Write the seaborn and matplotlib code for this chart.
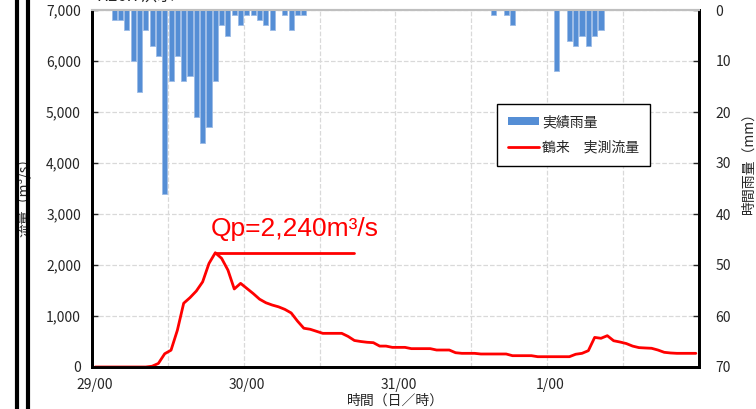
import numpy as np
import pandas as pd
import matplotlib
matplotlib.use("Agg")
import matplotlib.pyplot as plt
import seaborn as sns
from matplotlib.lines import Line2D
from matplotlib.patches import Patch
from matplotlib.ticker import FixedLocator, FuncFormatter

# hourly data, 29/00 .. 1/23 (96 hours)
hours = np.arange(96)

rain_mm = [0, 0, 0, 2, 2, 4, 10, 16, 4, 7,
           9, 36, 14, 9, 14, 13, 21, 26, 23, 14,
           3, 5, 1, 3, 1, 1, 2, 3, 4, 0,
           1, 4, 1, 1, 0, 0, 0, 0, 0, 0,
           0, 0, 0, 0, 0, 0, 0, 0, 0, 0,
           0, 0, 0, 0, 0, 0, 0, 0, 0, 0,
           0, 0, 0, 1, 0, 1, 3, 0, 0, 0,
           0, 0, 0, 12, 0, 6, 7, 5, 7, 5,
           4, 0, 0, 0, 0, 0, 0, 0, 0, 0,
           0, 0, 0, 0, 0, 0]

flow_cms = [0, 0, 0, 0, 0, 0, 0, 0, 0, 15,
            70, 260, 330, 720, 1250, 1360, 1490, 1670, 2030, 2240,
            2130, 1900, 1530, 1640, 1540, 1440, 1330, 1260, 1215, 1180,
            1130, 1060, 900, 760, 740, 700, 660, 660, 660, 660,
            600, 520, 500, 485, 477, 410, 410, 385, 385, 385,
            360, 360, 360, 360, 333, 333, 333, 280, 268, 268,
            268, 255, 255, 255, 255, 255, 222, 222, 222, 222,
            202, 202, 202, 202, 202, 202, 250, 268, 320, 580,
            563, 614, 515, 490, 460, 410, 380, 373, 367, 333,
            288, 275, 268, 268, 268, 268]

tick_pos = [0, 24, 48, 72]
tick_labels = ["29/00", "30/00", "31/00", "1/00"]
peak_flow = 2240

df = pd.DataFrame({"hour": hours, "rain": rain_mm, "flow": flow_cms})

sns.set_style("white")
jp = ["Noto Sans CJK JP", "DejaVu Sans"]
plt.rcParams["font.family"] = jp

bar_color = "#558ed5"
fig = plt.figure(figsize=(7.56, 4.09), dpi=100)
ax = fig.add_axes([92 / 756, 42 / 409, 607 / 756, 357 / 409])
ax2 = ax.twinx()

# flow (left axis)
sns.lineplot(data=df, x="hour", y="flow", ax=ax, color="red", lw=2, zorder=5)
ax.set_xlim(-0.5, 95.5)
ax.set_ylim(0, 7000)
ax.set_yticks(np.arange(0, 7001, 1000))
ax.yaxis.set_major_formatter(FuncFormatter(lambda v, p: f"{int(v):,}"))
ax.set_xticks(tick_pos)
ax.set_xticklabels(tick_labels)
ax.xaxis.set_minor_locator(FixedLocator(np.arange(-0.5, 96, 12)))
ax.grid(False)
ax.grid(axis="y", which="major", color="#d9d9d9", ls="--", lw=0.9)
ax.grid(axis="x", which="minor", color="#d9d9d9", ls="--", lw=0.9)
ax.tick_params(axis="x", which="major", length=0, labelsize=10, pad=8)
ax.tick_params(axis="x", which="minor", direction="in", length=4, width=1)
ax.tick_params(axis="y", direction="in", length=4, width=1, labelsize=10, pad=8)
ax.set_xlabel("時間（日／時）", fontsize=10)
ax.xaxis.set_label_coords(0.5, -0.076)
ax.set_ylabel("流量（m³/s）", fontsize=10)
ax.yaxis.set_label_coords(-0.099, 0.485)

# Qp annotation
ax.plot([19, 41], [peak_flow, peak_flow], color="red", lw=2)
ax.text(31.6, 2700, "Qp=2,240m³/s", color="red", fontsize=19,
        family=["Liberation Sans", "DejaVu Sans"], ha="center", va="center")

# rainfall (right axis, inverted)
sns.barplot(data=df, x="hour", y="rain", ax=ax2, native_scale=True,
            color=bar_color, saturation=1, width=0.8,
            edgecolor="#9bbbe6", linewidth=0.6)
ax2.set_xlim(-0.5, 95.5)
ax2.set_ylim(70, 0)
ax2.set_yticks(np.arange(0, 71, 10))
ax2.tick_params(axis="y", direction="in", length=4, width=1, labelsize=10, pad=12)
ax2.set_ylabel("時間雨量（mm）", fontsize=10)
ax2.yaxis.set_label_coords(1.071, 0.58)
ax2.set_xlabel("")

for a in (ax, ax2):
    for s in ("left", "right", "bottom"):
        a.spines[s].set_color("black")
        a.spines[s].set_linewidth(2)
    a.spines["top"].set_color("#bfbfbf")
    a.spines["top"].set_linewidth(1.5)

handles = [Patch(facecolor=bar_color, edgecolor="none"),
           Line2D([0], [0], color="red", lw=2)]
leg = ax2.legend(handles, ["実績雨量", "鶴来　実測流量"], loc="upper left",
                 bbox_to_anchor=(0.667, 0.737), borderaxespad=0, fontsize=10,
                 handlelength=2.25, handleheight=0.55, labelspacing=0.85,
                 borderpad=0.8, handletextpad=0.2, fancybox=False, framealpha=1)
leg.get_frame().set_edgecolor("black")
leg.get_frame().set_linewidth(1)
leg.set_zorder(10)

# title, partly cut off at the top edge
fig.text(96 / 756, 1 - 5 / 409, "H26.7洪水", fontsize=12, ha="left", va="bottom")

# border lines on the left side
for xp in (16.5, 27.5):
    fig.add_artist(Line2D([xp / 756, xp / 756], [0, 1], transform=fig.transFigure,
                          color="black", lw=3))

fig.savefig("out.png", dpi=100)
